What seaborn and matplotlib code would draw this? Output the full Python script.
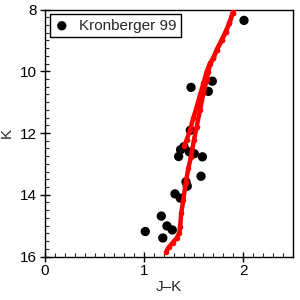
import numpy as np
import pandas as pd
import matplotlib
matplotlib.use("Agg")
import matplotlib.pyplot as plt
from matplotlib.ticker import MultipleLocator
import seaborn as sns

# observed stars (Kronberger 99)
star_jk = [2.01, 1.475, 1.69, 1.65, 1.468, 1.37, 1.458, 1.508, 1.35, 1.59,
           1.576, 1.424, 1.437, 1.313, 1.367, 1.175, 1.232, 1.286, 1.013, 1.19, 1.404]
star_k = [8.35, 10.52, 10.32, 10.65, 11.91, 12.54, 12.61, 12.67, 12.76, 12.77,
          13.40, 13.58, 13.72, 13.97, 14.11, 14.69, 15.01, 15.14, 15.19, 15.40, 12.44]

# isochrone, giant branch
rgb_jk = [1.222, 1.25, 1.29, 1.33, 1.357, 1.365, 1.376, 1.397, 1.421, 1.448, 1.475,
          1.505, 1.532, 1.566, 1.60, 1.633, 1.65, 1.667, 1.70, 1.734, 1.785, 1.825,
          1.861, 1.895, 1.92]
rgb_k = [15.86, 15.70, 15.55, 15.40, 15.24, 15.03, 14.60, 14.17, 13.62, 13.14, 12.76,
         12.22, 11.79, 11.25, 10.71, 10.28, 10.01, 9.76, 9.58, 9.31, 8.99, 8.72,
         8.45, 8.12, 7.91]

# isochrone, second (upper) branch
agb_jk = [1.404, 1.431, 1.465, 1.498, 1.532, 1.566, 1.60, 1.633, 1.667, 1.70,
          1.734, 1.785, 1.825, 1.861, 1.895, 1.92]
agb_k = [12.41, 12.22, 11.90, 11.52, 11.15, 10.77, 10.39, 10.01, 9.74, 9.58,
         9.31, 8.99, 8.72, 8.45, 8.12, 7.91]

sns.set_style("ticks")
plt.rcParams['font.family'] = ['Liberation Sans', 'DejaVu Sans']
plt.rcParams['font.size'] = 11

fig = plt.figure(figsize=(3, 3), dpi=100)
ax = fig.add_axes([0.15, 0.145, 0.825, 0.823])

stars = pd.DataFrame({"jk": star_jk, "k": star_k})
sns.scatterplot(data=stars, x="jk", y="k", ax=ax, color="black", s=45,
                edgecolor="none", label="Kronberger 99", zorder=2)

for bx, by in [(rgb_jk, rgb_k), (agb_jk, agb_k)]:
    sns.lineplot(x=bx, y=by, ax=ax, sort=False, estimator=None, color="red",
                 linewidth=3.2, marker="o", markersize=4, markeredgewidth=0,
                 zorder=3)

ax.set_xlim(0, 2.5)
ax.set_ylim(16, 8)
ax.set_xticks([0, 1, 2])
ax.set_yticks([8, 10, 12, 14, 16])
ax.xaxis.set_minor_locator(MultipleLocator(0.1))
ax.yaxis.set_minor_locator(MultipleLocator(0.25))
ax.tick_params(which="major", direction="inout", length=7, width=1,
               labelsize=11, pad=2, colors="black")
ax.tick_params(which="minor", direction="in", length=3, width=0.8)
for sp in ax.spines.values():
    sp.set_color("black")
    sp.set_linewidth(1)

ax.set_xlabel("J\u2013K", fontsize=11)
ax.set_ylabel("K", fontsize=11)
ax.xaxis.set_label_coords(0.5, -0.095)
ax.yaxis.set_label_coords(-0.125, 0.5)

leg = ax.legend(loc="upper left", fontsize=11, frameon=True, fancybox=False,
                framealpha=1, edgecolor="black", borderaxespad=0.3,
                handlelength=1.0, handletextpad=0.6, borderpad=0.3)
leg.get_frame().set_linewidth(1)

fig.savefig("out.png", dpi=100)
